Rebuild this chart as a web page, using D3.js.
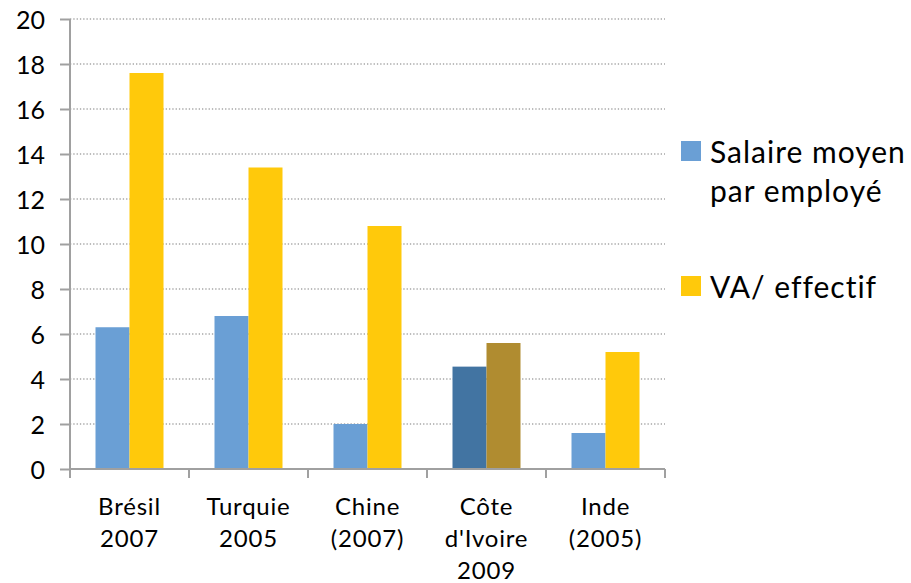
<!DOCTYPE html>
<html>
<head>
<meta charset="utf-8">
<script src="https://cdn.jsdelivr.net/npm/d3@7"></script>
<style>
  body { margin: 0; background: #fff; }
  svg text { font-family: Lato, "Open Sans", sans-serif; fill: #000; }
</style>
</head>
<body>
<svg id="chart" width="911" height="583"></svg>
<script>
const categories = [["Brésil", "2007"], ["Turquie", "2005"], ["Chine", "(2007)"], ["Côte", "d'Ivoire", "2009"], ["Inde", "(2005)"]];
const seriesNames = ["Salaire moyen par employé", "VA/ effectif"];
const salaire = [6.3, 6.8, 2.0, 4.55, 1.6];
const vaEffectif = [17.6, 13.4, 10.8, 5.6, 5.2];
const yTicks = [0, 2, 4, 6, 8, 10, 12, 14, 16, 18, 20];

const colors = ["#6a9fd5", "#ffc90b"];
// Côte d'Ivoire bars are drawn in darker shades
const highlight = { 3: ["#4274a2", "#b08c30"] };

const svg = d3.select("#chart");
const margin = { left: 70, top: 19, right: 246, bottom: 114 };
const width = 911 - margin.left - margin.right;
const height = 583 - margin.top - margin.bottom;

const x = d3.scaleBand().domain(d3.range(categories.length)).range([0, width]).paddingInner(0).paddingOuter(0);
const xs = d3.scaleBand().domain([0, 1]).range([0, 68]);
const y = d3.scaleLinear().domain([0, 20]).range([height, 0]);

const g = svg.append("g").attr("transform", `translate(${margin.left},${margin.top})`);

// gridlines
g.selectAll("line.grid").data(yTicks.filter(d => d > 0)).enter().append("line")
  .attr("x1", 0).attr("x2", width)
  .attr("y1", d => y(d)).attr("y2", d => y(d))
  .attr("stroke", "#a6a6a6").attr("stroke-width", 1.3).attr("stroke-dasharray", "1.3,2");

// bars
const rows = categories.map((c, i) => [salaire[i], vaEffectif[i]]);
const groups = g.selectAll("g.cat").data(rows).enter().append("g")
  .attr("transform", (d, i) => `translate(${x(i) + x.bandwidth() / 2 - 34},0)`);
groups.each(function (d, i) {
  d3.select(this).selectAll("rect").data(d).enter().append("rect")
    .attr("x", (v, j) => xs(j))
    .attr("width", xs.bandwidth())
    .attr("y", v => y(v))
    .attr("height", v => height - y(v))
    .attr("fill", (v, j) => (highlight[i] ? highlight[i][j] : colors[j]));
});

// y axis
const yAxis = g.append("g").call(d3.axisLeft(y).tickValues(yTicks).tickSize(10).tickPadding(15));
yAxis.select(".domain").attr("stroke", "#a0a0a0").attr("stroke-width", 2).attr("d", `M0,0V${height}`);
yAxis.selectAll(".tick line").attr("stroke", "#a0a0a0").attr("stroke-width", 2);
yAxis.selectAll(".tick text").style("font-size", "25px").style("font-family", "Lato, sans-serif").attr("dy", "0.36em");

// x axis
const boundaries = d3.range(categories.length + 1).map(i => i * x.bandwidth());
g.append("line").attr("x1", 0).attr("x2", width).attr("y1", height).attr("y2", height)
  .attr("stroke", "#a0a0a0").attr("stroke-width", 2);
g.selectAll("line.xtick").data(boundaries).enter().append("line")
  .attr("x1", d => d).attr("x2", d => d).attr("y1", height).attr("y2", height + 9)
  .attr("stroke", "#a0a0a0").attr("stroke-width", 2);

const labels = g.selectAll("text.cat").data(categories).enter().append("text")
  .attr("text-anchor", "middle")
  .attr("transform", (d, i) => `translate(${x(i) + x.bandwidth() / 2},${height + 46})`)
  .style("font-size", "24px").style("letter-spacing", "0.8px");
labels.selectAll("tspan").data(d => d).enter().append("tspan")
  .attr("x", 0).attr("dy", (d, k) => (k === 0 ? 0 : 32)).text(d => d);

// legend
const legend = svg.append("g");
const legendItems = [
  { lines: ["Salaire moyen", "par employé"], color: colors[0], y: 141 },
  { lines: ["VA/ effectif"], color: colors[1], y: 276 }
];
legendItems.forEach(it => {
  legend.append("rect").attr("x", 681).attr("y", it.y).attr("width", 20).attr("height", 20).attr("fill", it.color);
  const t = legend.append("text").attr("x", 710).attr("y", it.y + 22)
    .style("font-size", "30px").style("letter-spacing", "1px");
  t.selectAll("tspan").data(it.lines).enter().append("tspan")
    .attr("x", 710).attr("dy", (d, k) => (k === 0 ? 0 : 39)).text(d => d);
});
</script>
</body>
</html>
